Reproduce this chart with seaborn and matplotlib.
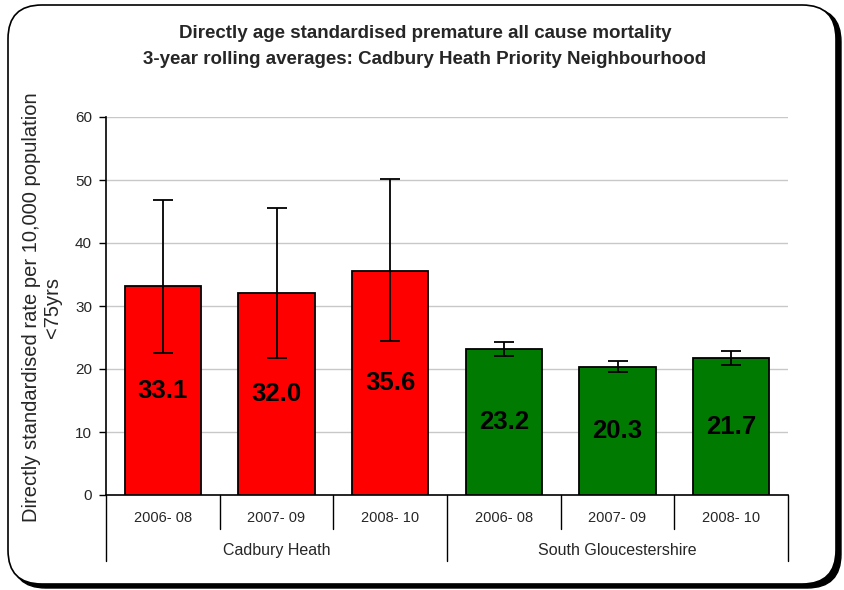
import matplotlib
matplotlib.use("Agg")
import matplotlib.pyplot as plt
import seaborn as sns
import pandas as pd
import numpy as np
from matplotlib.patches import FancyBboxPatch
from matplotlib.lines import Line2D

# ---- data ----
groups = ["Cadbury Heath"] * 3 + ["South Gloucestershire"] * 3
periods = ["2006-08", "2007-09", "2008-10", "2006-08", "2007-09", "2008-10"]
values = [33.1, 32.0, 35.6, 23.2, 20.3, 21.7]
lower_ci = [22.5, 21.7, 24.5, 22.0, 19.5, 20.7]
upper_ci = [46.8, 45.6, 50.1, 24.3, 21.2, 22.8]
group_names = ["Cadbury Heath", "South Gloucestershire"]
group_colors = ["#FF0000", "#007A00"]
title = "Directly age standardised premature all cause mortality\n3-year rolling averages: Cadbury Heath Priority Neighbourhood"
ylabel = "Directly standardised rate per 10,000 population\n<75yrs"
yticks = [0, 10, 20, 30, 40, 50, 60]

df = pd.DataFrame({
    "group": groups,
    "period": periods,
    "key": [f"{g} {p}" for g, p in zip(groups, periods)],
    "value": values,
    "lo": lower_ci,
    "hi": upper_ci,
})

sns.set_theme(style="white")
plt.rcParams["font.family"] = ["Liberation Sans", "DejaVu Sans"]

W, H = 845, 590
fig = plt.figure(figsize=(W / 100, H / 100), dpi=100)
fig.patch.set_facecolor("white")

# frame with shadow
shadow = FancyBboxPatch((12 / W, 2 / H), (829 / W), (580 / H),
                        boxstyle="round,pad=0,rounding_size=0.04",
                        transform=fig.transFigure, facecolor="black",
                        edgecolor="black", zorder=0, mutation_aspect=W / H)
fig.patches.append(shadow)
frame = FancyBboxPatch((8 / W, 6 / H), (828 / W), (579 / H),
                       boxstyle="round,pad=0,rounding_size=0.04",
                       transform=fig.transFigure, facecolor="white",
                       edgecolor="black", linewidth=1.2, zorder=1,
                       mutation_aspect=W / H)
fig.patches.append(frame)

left, right, top, bottom = 106, 788, 117, 495
ax = fig.add_axes([left / W, 1 - bottom / H, (right - left) / W, (bottom - top) / H])
ax.set_facecolor("none")
ax.set_zorder(2)

sns.barplot(data=df, x="key", y="value", hue="group", palette=group_colors,
            hue_order=group_names, dodge=False, width=0.67, errorbar=None,
            saturation=1, edgecolor="black", linewidth=1.3, legend=False,
            ax=ax, zorder=3)

xs = np.arange(len(values))
ax.errorbar(xs, df["value"],
            yerr=[df["value"] - df["lo"], df["hi"] - df["value"]],
            fmt="none", ecolor="black", elinewidth=1.3, capsize=7,
            capthick=1.3, zorder=4)

for x, v in zip(xs, values):
    ax.text(x, v / 2, f"{v:.1f}", ha="center", va="center", fontsize=18.5,
            fontweight="bold", color="black", zorder=5)

ax.set_ylim(0, 60)
ax.set_xlim(-0.5, len(values) - 0.5)
ax.set_yticks(yticks)
ax.set_yticklabels([str(t) for t in yticks], fontsize=11)
for t in yticks[1:]:
    ax.axhline(t, color="#C8C8C8", linewidth=1.0, zorder=1)
ax.tick_params(axis="y", direction="out", length=5, width=1, color="black",
               left=True, pad=5)
ax.set_xticks([])
ax.set_xlabel("")
ax.set_ylabel("")
for s in ["top", "right"]:
    ax.spines[s].set_visible(False)
for s in ["left", "bottom"]:
    ax.spines[s].set_color("black")
    ax.spines[s].set_linewidth(1.2)

# two-level category axis
tr = ax.get_xaxis_transform()
for x, p in zip(xs, periods):
    ax.text(x, -0.061, p.replace("-", "- "), transform=tr, ha="center",
            va="center", fontsize=10.5, clip_on=False)
n = len(values)
for b in range(n + 1):
    xb = b - 0.5
    outer = b in (0, 3, n)
    y1 = -0.175 if outer else -0.09
    ax.add_line(Line2D([xb, xb], [0, y1], transform=tr, color="black",
                       linewidth=1.0, clip_on=False))
for gi, g in enumerate(group_names):
    ax.text(gi * 3 + 1, -0.146, g, transform=tr, ha="center", va="center",
            fontsize=11.5, clip_on=False)

fig.text(425 / W, 1 - 46.5 / H, title, ha="center", va="center", fontsize=13.5,
         fontweight="bold", linespacing=1.75, zorder=3)
fig.text(42 / W, 1 - 307 / H, ylabel, ha="center", va="center", rotation=90,
         fontsize=14.5, linespacing=1.15, zorder=3)

fig.savefig("out.png", dpi=100, facecolor="white")
